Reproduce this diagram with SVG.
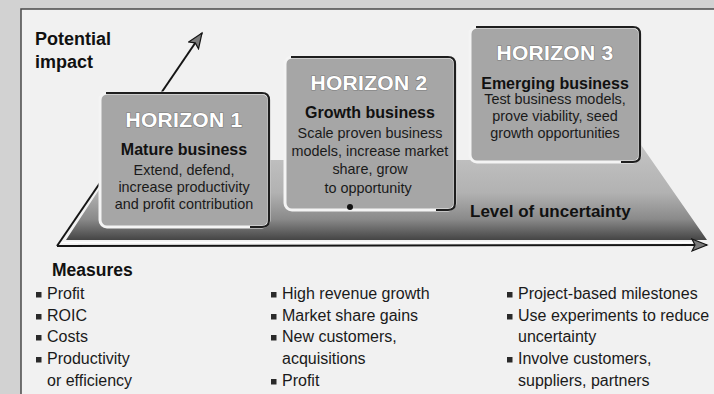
<svg xmlns="http://www.w3.org/2000/svg" width="714" height="394" viewBox="0 0 714 394">
<style>
  .t { font-family: "Liberation Sans", Arial, sans-serif; fill: #1a1a1a; }
  .hz { font-family: "Liberation Sans", Arial, sans-serif; font-weight: bold; font-size: 21px; fill: #ffffff; stroke: #7a7a7a; stroke-width: 1.2; paint-order: stroke; text-anchor: middle; letter-spacing: 0.3px; }
  .sub { font-family: "Liberation Sans", Arial, sans-serif; font-weight: bold; font-size: 16px; fill: #111; text-anchor: middle; }
  .body { font-family: "Liberation Sans", Arial, sans-serif; font-size: 14.4px; fill: #1a1a1a; text-anchor: middle; }
  .head { font-family: "Liberation Sans", Arial, sans-serif; font-weight: bold; fill: #111; }
  .li { font-family: "Liberation Sans", Arial, sans-serif; font-size: 16px; fill: #1a1a1a; }
  .box { fill: #a6a6a6; stroke: #f4f4f4; stroke-width: 3; }
  .edge { fill: none; stroke: #1e1e1e; stroke-width: 2.2; }
  .bul { fill: #2a2a2a; }
  .axis { fill: none; stroke: #151515; stroke-width: 2; }
</style>
<defs>
  <linearGradient id="plat" x1="0" y1="0" x2="0" y2="1">
    <stop offset="0" stop-color="#c4c4c4"/>
    <stop offset="0.5" stop-color="#b2b2b2"/>
    <stop offset="0.78" stop-color="#8a8a8a"/>
    <stop offset="1" stop-color="#454545"/>
  </linearGradient>
  <marker id="arr" markerUnits="userSpaceOnUse" markerWidth="18" markerHeight="16" refX="16" refY="7" orient="auto">
    <path d="M1,1 L16,7 L1,13 L4,7 Z" fill="#7a7a7a" stroke="#151515" stroke-width="1.2"/>
  </marker>
</defs>

<!-- background -->
<rect x="0" y="0" width="714" height="394" fill="#d2d2d2"/>
<rect x="21" y="9" width="693" height="385" fill="#f1f1f1"/>
<path d="M21,394 L21,9 L714,9" fill="none" stroke="#4a4a4a" stroke-width="1.5"/>

<!-- platform -->
<polygon points="66,240 104,182 104,160 630,160 641,145 707,240" fill="url(#plat)"/>
<line x1="60" y1="242.5" x2="700" y2="242.5" stroke="#ffffff" stroke-width="1.5"/>

<!-- connectors (axes) -->
<g id="connectors">
  <line class="axis" x1="57" y1="246" x2="202" y2="33" marker-end="url(#arr)"/>
  <line class="axis" x1="57" y1="246" x2="707" y2="245" marker-end="url(#arr)"/>
</g>

<!-- Horizon 1 -->
<g id="node-h1">
  <rect class="box" x="100" y="93" width="169" height="134" rx="7"/>
  <path class="edge" d="M106,93 L262,93 Q269,93 269,100 L269,220 Q269,227 262,227 L250,227"/>
  <text class="hz" x="184" y="127">HORIZON 1</text>
  <text class="sub" x="184" y="155">Mature business</text>
  <text class="body" x="184" y="175">Extend, defend,</text>
  <text class="body" x="184" y="192">increase productivity</text>
  <text class="body" x="184" y="209">and profit contribution</text>
</g>

<!-- Horizon 2 -->
<g id="node-h2">
  <rect class="box" x="285" y="57" width="170" height="153" rx="7"/>
  <path class="edge" d="M291,57 L448,57 Q455,57 455,64 L455,203 Q455,210 448,210 L436,210"/>
  <text class="hz" x="369" y="90">HORIZON 2</text>
  <text class="sub" x="370" y="118">Growth business</text>
  <text class="body" x="370" y="138">Scale proven business</text>
  <text class="body" x="370" y="156">models, increase market</text>
  <text class="body" x="370" y="174">share, grow</text>
  <text class="body" x="368" y="193">to opportunity</text>
  <circle cx="350" cy="207" r="3" fill="#111"/>
</g>

<!-- Horizon 3 -->
<g id="node-h3">
  <rect class="box" x="470" y="27" width="170" height="135" rx="7"/>
  <path class="edge" d="M476,27 L633,27 Q640,27 640,34 L640,155 Q640,162 633,162 L621,162"/>
  <text class="hz" x="555" y="60">HORIZON 3</text>
  <text class="sub" x="555" y="89">Emerging business</text>
  <text class="body" x="555" y="104">Test business models,</text>
  <text class="body" x="555" y="121">prove viability, seed</text>
  <text class="body" x="555" y="138">growth opportunities</text>
</g>

<!-- axis labels -->
<g id="labels">
  <text class="head" x="35" y="45" font-size="18">Potential</text>
  <text class="head" x="35" y="68" font-size="18">impact</text>
  <text class="head" x="470" y="217" font-size="17">Level of uncertainty</text>
  <text class="head" x="52" y="276" font-size="17.5">Measures</text>
</g>

<!-- measures -->
<g id="measures-h1">
  <rect class="bul" x="36" y="292" width="5.5" height="5.5"/>
  <text class="li" x="47" y="299">Profit</text>
  <rect class="bul" x="36" y="314" width="5.5" height="5.5"/>
  <text class="li" x="47" y="321">ROIC</text>
  <rect class="bul" x="36" y="335" width="5.5" height="5.5"/>
  <text class="li" x="47" y="342">Costs</text>
  <rect class="bul" x="36" y="357" width="5.5" height="5.5"/>
  <text class="li" x="47" y="364">Productivity</text>
  <text class="li" x="47" y="386">or efficiency</text>
</g>
<g id="measures-h2">
  <rect class="bul" x="271" y="292" width="5.5" height="5.5"/>
  <text class="li" x="282" y="299">High revenue growth</text>
  <rect class="bul" x="271" y="314" width="5.5" height="5.5"/>
  <text class="li" x="282" y="321">Market share gains</text>
  <rect class="bul" x="271" y="335" width="5.5" height="5.5"/>
  <text class="li" x="282" y="342">New customers,</text>
  <text class="li" x="282" y="364">acquisitions</text>
  <rect class="bul" x="271" y="379" width="5.5" height="5.5"/>
  <text class="li" x="282" y="386">Profit</text>
</g>
<g id="measures-h3">
  <rect class="bul" x="507" y="292" width="5.5" height="5.5"/>
  <text class="li" x="518" y="299">Project-based milestones</text>
  <rect class="bul" x="507" y="314" width="5.5" height="5.5"/>
  <text class="li" x="518" y="321">Use experiments to reduce</text>
  <text class="li" x="518" y="342">uncertainty</text>
  <rect class="bul" x="507" y="357" width="5.5" height="5.5"/>
  <text class="li" x="518" y="364">Involve customers,</text>
  <text class="li" x="518" y="386">suppliers, partners</text>
</g>
</svg>
